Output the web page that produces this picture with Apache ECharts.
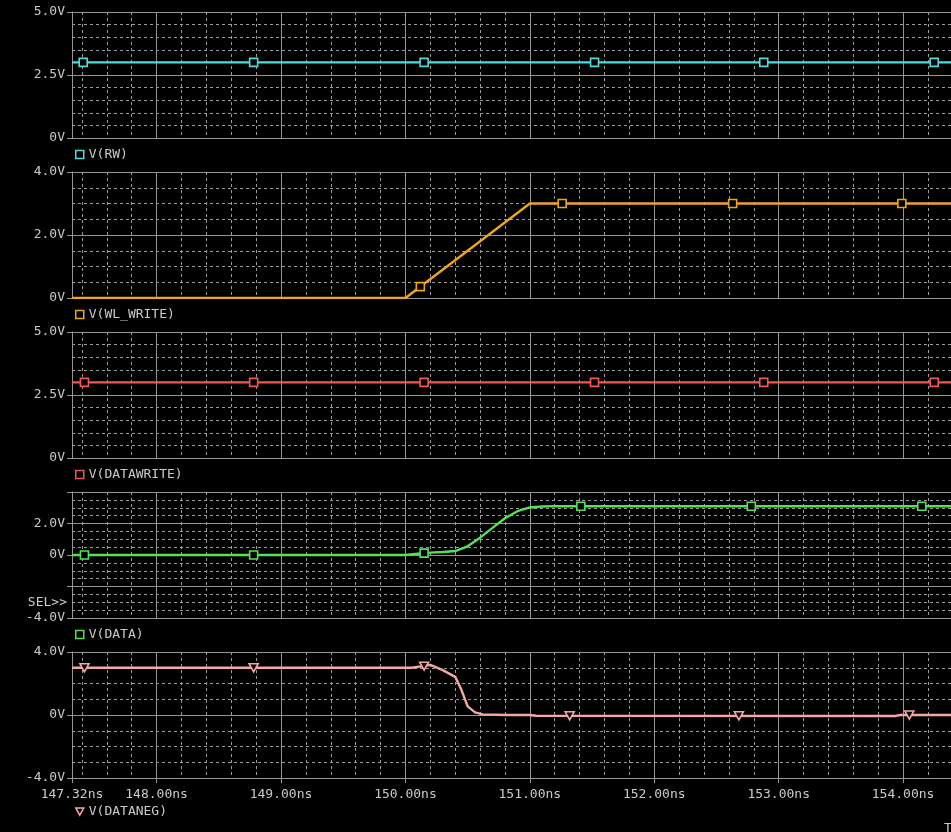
<!DOCTYPE html>
<html>
<head>
<meta charset="utf-8">
<title>PSpice waveforms</title>
<script src="https://cdn.jsdelivr.net/npm/echarts@6/dist/echarts.min.js"></script>
<style>
  html, body { margin: 0; padding: 0; background: #000; }
  #chart { width: 951px; height: 832px; }
</style>
</head>
<body>
<div id="chart"></div>
<script>
// time axis (ns)
const timeMin = 147.32;
const timeMax = 154.385;
const timeMajor = [147.32, 148, 149, 150, 151, 152, 153, 154];

// V(RW)
const rwTime = [147.32, 154.385];
const rwVolt = [3.0, 3.0];
const rwMarkTime = [147.41, 148.78, 150.15, 151.52, 152.88, 154.25];
const rwMarkVolt = [3.0, 3.0, 3.0, 3.0, 3.0, 3.0];

// V(WL_WRITE)
const wlTime = [147.32, 150.0, 151.0, 154.385];
const wlVolt = [0.0, 0.0, 3.0, 3.0];
const wlMarkTime = [150.12, 151.26, 152.63, 153.99];
const wlMarkVolt = [0.36, 3.0, 3.0, 3.0];

// V(DATAWRITE)
const dwTime = [147.32, 154.385];
const dwVolt = [3.0, 3.0];
const dwMarkTime = [147.42, 148.78, 150.15, 151.52, 152.88, 154.25];
const dwMarkVolt = [3.0, 3.0, 3.0, 3.0, 3.0, 3.0];

// V(DATA)
const dataTime = [147.32, 150.0, 150.1, 150.2, 150.3, 150.4, 150.5, 150.6, 150.7, 150.8, 150.9, 151.0, 151.1, 151.2, 154.385];
const dataVolt = [0.0, 0.0, 0.08, 0.15, 0.19, 0.25, 0.55, 1.1, 1.72, 2.33, 2.78, 3.02, 3.08, 3.1, 3.1];
const dataMarkTime = [147.42, 148.78, 150.15, 151.41, 152.78, 154.15];
const dataMarkVolt = [0.0, 0.0, 0.12, 3.1, 3.1, 3.1];

// V(DATANEG)
const negTime = [147.32, 150.05, 150.12, 150.2, 150.3, 150.4, 150.45, 150.5, 150.56, 150.62, 150.8, 151.0, 151.05, 153.94, 153.98, 154.385];
const negVolt = [3.0, 3.0, 3.08, 3.18, 2.85, 2.42, 1.6, 0.55, 0.17, 0.04, 0.0, 0.0, -0.05, -0.06, 0.0, 0.0];
const negMarkTime = [147.42, 148.78, 150.15, 151.32, 152.68, 154.05];
const negMarkVolt = [3.0, 3.0, 3.1, -0.05, -0.05, 0.0];

// y axis ranges and labelled values per panel
const yMin = [0, 0, 0, -4, -4];
const yMax = [5, 4, 5, 4, 4];
const yStep = [2.5, 2, 2.5, 2, 4];
const yMinorSplit = [5, 4, 5, 4, 4];
const yLabelled = [[0, 2.5, 5], [0, 2, 4], [0, 2.5, 5], [-4, 0, 2], [-4, 0, 4]];

const names = ['V(RW)', 'V(WL_WRITE)', 'V(DATAWRITE)', 'V(DATA)', 'V(DATANEG)'];
const colors = ['#52dada', '#eea426', '#f05858', '#58e058', '#f4a8a4'];

const font = 'DejaVu Sans Mono';
const textGrey = '#cacaca';
const gridGrey = '#959595';
const dotGrey = '#9c9c9c';
const triangle = 'path://M0,0L10,0L5,9Z';

const zip = (t, v) => t.map((x, i) => [x, v[i]]);
const lines = [zip(rwTime, rwVolt), zip(wlTime, wlVolt), zip(dwTime, dwVolt), zip(dataTime, dataVolt), zip(negTime, negVolt)];
const marks = [zip(rwMarkTime, rwMarkVolt), zip(wlMarkTime, wlMarkVolt), zip(dwMarkTime, dwMarkVolt), zip(dataMarkTime, dataMarkVolt), zip(negMarkTime, negMarkVolt)];

// 0.2 ns minor grid positions (skip the whole-ns lines)
const timeMinor = [];
for (let k = 737; k <= 771; k++) {
  if (k % 5 !== 0) timeMinor.push(Math.round(k * 2) / 10);
}

const panelTop = [12, 172, 332, 492, 652];
const panelHeight = 126;
const legendTop = [148, 308, 468, 628, 805];

const fmtVolt = v => (v === 0 ? '0V' : v.toFixed(1) + 'V');

const grid = [], xAxis = [], yAxis = [], series = [], legend = [];
names.forEach((name, i) => {
  const last = i === names.length - 1;
  grid.push({ left: 72, right: 0, top: panelTop[i], height: panelHeight });
  // main time axis: solid major grid lines
  xAxis.push({
    type: 'value', gridIndex: i, min: timeMin, max: timeMax, position: 'bottom',
    axisLine: { show: false, onZero: false },
    axisTick: { show: last, length: 5, customValues: timeMajor, lineStyle: { color: gridGrey } },
    axisLabel: {
      show: last, customValues: timeMajor, margin: 10, color: textGrey,
      fontFamily: font, fontSize: 13, formatter: v => v.toFixed(2) + 'ns'
    },
    splitLine: { show: true, lineStyle: { color: gridGrey, width: 1 } }
  });
  // minor time axis: dotted lines only
  xAxis.push({
    type: 'value', gridIndex: i, min: timeMin, max: timeMax, position: 'top',
    axisLine: { show: false, onZero: false },
    axisTick: { show: false, customValues: timeMinor },
    axisLabel: { show: false },
    splitLine: { show: true, lineStyle: { color: dotGrey, width: 1, type: [3, 3] } }
  });
  const labelled = yLabelled[i];
  yAxis.push({
    type: 'value', gridIndex: i, min: yMin[i], max: yMax[i], interval: yStep[i],
    axisLine: { show: true, lineStyle: { color: gridGrey } },
    axisTick: { show: true, length: 5, lineStyle: { color: gridGrey } },
    axisLabel: {
      margin: 7, color: textGrey, fontFamily: font, fontSize: 13,
      formatter: v => (labelled.includes(v) ? fmtVolt(v) : '')
    },
    splitLine: { show: true, lineStyle: { color: gridGrey, width: 1 } },
    minorTick: { show: false, splitNumber: yMinorSplit[i] },
    minorSplitLine: { show: true, lineStyle: { color: dotGrey, width: 1, type: [3, 3] } }
  });
  series.push({
    name: name, type: 'line', xAxisIndex: i * 2, yAxisIndex: i,
    data: lines[i], symbol: 'none', showSymbol: false,
    lineStyle: { color: colors[i], width: 2.4 }, itemStyle: { color: colors[i] },
    z: 3
  });
  series.push({
    type: 'scatter', xAxisIndex: i * 2, yAxisIndex: i, data: marks[i],
    symbol: last ? triangle : 'rect', symbolSize: last ? [9, 8] : 8,
    itemStyle: { color: '#000', borderColor: colors[i], borderWidth: 1.6, opacity: 1 },
    z: 4
  });
  legend.push({
    left: 75, top: legendTop[i], padding: 0, selectedMode: false,
    itemWidth: 8, itemHeight: 8,
    textStyle: { color: textGrey, fontFamily: font, fontSize: 13 },
    data: [{
      name: name, icon: last ? triangle : 'rect',
      itemStyle: { color: '#000', borderColor: colors[i], borderWidth: 1.5 }
    }]
  });
});

const chart = echarts.init(document.getElementById('chart'), null, { renderer: 'canvas' });
chart.setOption({
  backgroundColor: '#000',
  animation: false,
  grid, xAxis, yAxis, series, legend,
  graphic: [
    {
      type: 'text', x: 67, y: 603,
      style: { text: 'SEL>>', fill: textGrey, font: '13px "DejaVu Sans Mono"', align: 'right', verticalAlign: 'middle' }
    },
    {
      type: 'text', x: 944, y: 829,
      style: { text: 'Time', fill: textGrey, font: '13px "DejaVu Sans Mono"', align: 'left', verticalAlign: 'middle' }
    }
  ]
});
</script>
</body>
</html>
